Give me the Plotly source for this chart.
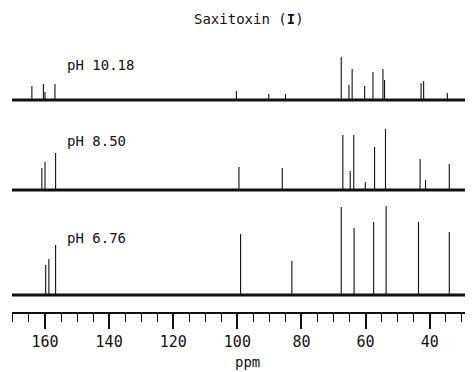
import plotly.graph_objects as go

# Peak positions (ppm) and intensities (arbitrary units)
ph_labels = ["pH 10.18", "pH 8.50", "pH 6.76"]

ppm_10 = [164.1, 160.5, 160.0, 156.9, 100.3, 90.2, 85.0, 67.6, 65.2, 64.2, 60.3, 57.7, 54.6, 54.1, 42.7, 41.9, 34.5]
int_10 = [14, 16, 8, 16, 9, 6, 6, 43, 15, 31, 14, 28, 31, 20, 17, 19, 7]

ppm_8 = [161.0, 160.0, 156.7, 99.5, 86.0, 67.1, 64.8, 63.7, 60.1, 57.2, 53.8, 43.0, 41.3, 33.9]
int_8 = [22, 28, 37, 23, 22, 55, 19, 55, 8, 43, 61, 31, 10, 26]

ppm_6 = [159.8, 158.8, 156.7, 99.0, 83.0, 67.6, 63.6, 57.5, 53.6, 43.5, 33.9]
int_6 = [30, 36, 50, 61, 34, 88, 67, 73, 89, 73, 63]

spectra = [(ppm_10, int_10), (ppm_8, int_8), (ppm_6, int_6)]
offsets = [212, 122, 17]          # vertical stacking of the three traces
label_y = [247, 171, 74]

X_RANGE = [170.3, 26.5]

fig = go.Figure()
FONT = "DejaVu Sans Mono"
INK = "#111"

for (ppm, inten), off in zip(spectra, offsets):
    xs, ys = [], []
    for p, h in zip(ppm, inten):
        xs += [p, p, None]
        ys += [off, off + h, None]
    fig.add_trace(go.Scatter(x=xs, y=ys, mode="lines",
                             line=dict(color=INK, width=1.1),
                             hoverinfo="skip", showlegend=False))
    # baseline
    fig.add_shape(type="line", xref="paper", yref="y", x0=0, x1=1, y0=off, y1=off,
                  line=dict(color=INK, width=3.2))

for lab, ly in zip(ph_labels, label_y):
    fig.add_annotation(text=lab, xref="paper", yref="y", x=0.115, y=ly,
                       xanchor="left", yanchor="middle", showarrow=False,
                       font=dict(family=FONT, size=14, color=INK))

fig.add_annotation(text="Saxitoxin (<b>I</b>)", xref="paper", yref="paper",
                   x=0.514, y=1.077, xanchor="center", yanchor="middle",
                   showarrow=False, font=dict(family=FONT, size=14, color=INK))
fig.add_annotation(text="ppm", xref="paper", yref="paper",
                   x=0.51, y=-0.182, xanchor="center", yanchor="middle",
                   showarrow=False, font=dict(family=FONT, size=14, color=INK))

fig.update_xaxes(range=X_RANGE, showgrid=False, zeroline=False,
                 showline=True, linecolor=INK, linewidth=2,
                 ticks="outside", tickmode="linear", tick0=0, dtick=20,
                 ticklen=15, tickwidth=1.5, tickcolor=INK,
                 tickfont=dict(family=FONT, size=15, color=INK),
                 minor=dict(ticks="outside", dtick=5, tick0=0, ticklen=8,
                            tickwidth=1.3, tickcolor=INK, showgrid=False))
fig.update_yaxes(range=[0, 272], visible=False, showgrid=False, zeroline=False)

# page body has an 8px margin, so the figure is sized to fit the window
fig.update_layout(width=465, height=364,
                  margin=dict(l=4, r=0, t=32, b=60),
                  paper_bgcolor="white", plot_bgcolor="white",
                  showlegend=False)

fig.write_html("out.html")
